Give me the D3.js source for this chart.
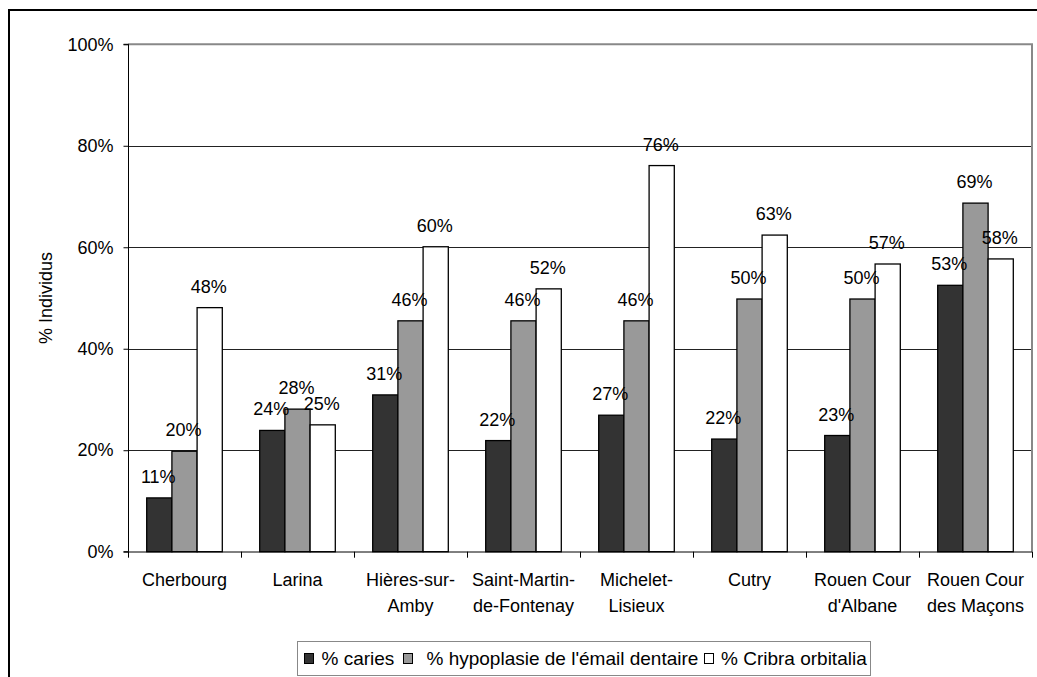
<!DOCTYPE html>
<html>
<head>
<meta charset="utf-8">
<script src="https://cdn.jsdelivr.net/npm/d3@7"></script>
<style>
  html, body { margin: 0; padding: 0; background: #fff; }
  svg { display: block; font-family: "Liberation Sans", Arial, sans-serif; }
</style>
</head>
<body>
<svg id="chart" width="1037" height="677"></svg>
<script>
// ---- Data ----
const categories = [
  ["Cherbourg"],
  ["Larina"],
  ["Hières-sur-", "Amby"],
  ["Saint-Martin-", "de-Fontenay"],
  ["Michelet-", "Lisieux"],
  ["Cutry"],
  ["Rouen Cour", "d'Albane"],
  ["Rouen Cour", "des Maçons"]
];
const seriesNames = ["% caries", "% hypoplasie de l'émail dentaire", "% Cribra orbitalia"];
const caries     = [10.6, 23.9, 30.9, 21.9, 26.9, 22.2, 22.9, 52.5];
const hypoplasie = [19.8, 28.1, 45.5, 45.5, 45.5, 49.8, 49.8, 68.7];
const cribra     = [48.1, 25.0, 60.1, 51.8, 76.1, 62.4, 56.7, 57.7];
const seriesValues = [caries, hypoplasie, cribra];
const labelCaries     = ["11%", "24%", "31%", "22%", "27%", "22%", "23%", "53%"];
const labelHypoplasie = ["20%", "28%", "46%", "46%", "46%", "50%", "50%", "69%"];
const labelCribra     = ["48%", "25%", "60%", "52%", "76%", "63%", "57%", "58%"];
const seriesLabels = [labelCaries, labelHypoplasie, labelCribra];
const yTicks = [0, 20, 40, 60, 80, 100];
const yTickLabels = ["0%", "20%", "40%", "60%", "80%", "100%"];
const yTitle = "% Individus";

// ---- Styles / layout ----
const colors = ["#333333", "#999999", "#ffffff"];
const fontSize = 18;
const legendFontSize = 19;
const legendMarkerX = [304, 403, 704];
const legendTextX = [321.5, 426.5, 721];

const svg = d3.select("#chart");

// outer frame
svg.append("rect")
  .attr("x", 9).attr("y", 10).attr("width", 1100).attr("height", 800)
  .attr("fill", "none").attr("stroke", "#000").attr("stroke-width", 2);

const plot = { left: 128, right: 1032, top: 44.3, bottom: 551.7 };

const x = d3.scaleBand()
  .domain(d3.range(categories.length))
  .range([plot.left, plot.right])
  .padding(0);
const bw = x.bandwidth();
const xs = d3.scaleBand()
  .domain(d3.range(seriesNames.length))
  .range([bw * 0.1655, bw * 0.8345])
  .padding(0);
const y = d3.scaleLinear().domain([0, 100]).range([plot.bottom, plot.top]);

const crisp = v => Math.round(v) + 0.5;

// gridlines
svg.append("g").selectAll("line")
  .data(yTicks.filter(t => t > 0 && t < 100))
  .join("line")
  .attr("x1", plot.left).attr("x2", plot.right)
  .attr("y1", d => crisp(y(d))).attr("y2", d => crisp(y(d)))
  .attr("stroke", "#222").attr("stroke-width", 1);

// plot border top & right (gray)
svg.append("line")
  .attr("x1", plot.left).attr("x2", plot.right + 1)
  .attr("y1", y(100)).attr("y2", y(100))
  .attr("stroke", "#888").attr("stroke-width", 2);
svg.append("line")
  .attr("x1", plot.right).attr("x2", plot.right)
  .attr("y1", y(100)).attr("y2", plot.bottom)
  .attr("stroke", "#888").attr("stroke-width", 2);

// bars
const groups = svg.append("g").selectAll("g")
  .data(categories)
  .join("g")
  .attr("transform", (d, i) => `translate(${x(i)},0)`);

groups.each(function(d, i) {
  const g = d3.select(this);
  seriesValues.forEach((vals, s) => {
    g.append("rect")
      .attr("x", xs(s))
      .attr("y", y(vals[i]))
      .attr("width", xs.bandwidth())
      .attr("height", y(0) - y(vals[i]))
      .attr("fill", colors[s])
      .attr("stroke", "#000")
      .attr("stroke-width", 1.3);
  });
});

// data labels
groups.each(function(d, i) {
  const g = d3.select(this);
  seriesValues.forEach((vals, s) => {
    g.append("text")
      .attr("x", xs(s) + xs.bandwidth() / 2 - 1)
      .attr("y", y(vals[i]) - 15)
      .attr("text-anchor", "middle")
      .attr("font-size", fontSize)
      .attr("fill", "#000")
      .text(seriesLabels[s][i]);
  });
});

// y axis
const yAxis = d3.axisLeft(y)
  .tickValues(yTicks)
  .tickFormat((d, i) => yTickLabels[i])
  .tickSize(5)
  .tickPadding(10);
const yG = svg.append("g")
  .attr("transform", `translate(${plot.left + 0.5},0)`)
  .call(yAxis);
yG.select(".domain").attr("stroke", "#000").attr("d", `M-5,${y(100)}H0V${plot.bottom}H-5`);
yG.selectAll(".tick line").attr("stroke", "#000");
yG.selectAll(".tick text")
  .attr("font-size", fontSize)
  .attr("font-family", "Liberation Sans, Arial, sans-serif")
  .attr("fill", "#000");

// x axis line + ticks at category boundaries
const xAxisG = svg.append("g");
xAxisG.append("line")
  .attr("x1", plot.left).attr("x2", plot.right)
  .attr("y1", crisp(plot.bottom) - 0.5).attr("y2", crisp(plot.bottom) - 0.5)
  .attr("stroke", "#000").attr("stroke-width", 1);
xAxisG.selectAll("line.tick")
  .data(d3.range(categories.length + 1))
  .join("line")
  .attr("class", "tick")
  .attr("x1", i => crisp(plot.left + i * bw)).attr("x2", i => crisp(plot.left + i * bw))
  .attr("y1", plot.bottom).attr("y2", plot.bottom + 6)
  .attr("stroke", "#000");

// category labels
const catText = xAxisG.selectAll("text.cat")
  .data(categories)
  .join("text")
  .attr("class", "cat")
  .attr("text-anchor", "middle")
  .attr("font-size", fontSize)
  .attr("fill", "#000")
  .attr("x", (d, i) => x(i) + bw / 2)
  .attr("y", 586);
catText.selectAll("tspan")
  .data(d => d)
  .join("tspan")
  .attr("x", function() { return d3.select(this.parentNode).attr("x"); })
  .attr("dy", (d, j) => j === 0 ? 0 : 26)
  .text(d => d);

// y title
svg.append("text")
  .attr("transform", `translate(52,${(plot.top + plot.bottom) / 2}) rotate(-90)`)
  .attr("text-anchor", "middle")
  .attr("font-size", fontSize)
  .attr("fill", "#000")
  .text(yTitle);

// legend
const legend = svg.append("g");
legend.append("rect")
  .attr("x", 297.5).attr("y", 641.5).attr("width", 573).attr("height", 34)
  .attr("fill", "#fff").attr("stroke", "#888").attr("stroke-width", 1);
const ly = 665;
seriesNames.forEach((name, s) => {
  legend.append("rect")
    .attr("x", legendMarkerX[s] + 0.5).attr("y", ly - 11.5).attr("width", 9).attr("height", 10)
    .attr("fill", colors[s]).attr("stroke", "#000").attr("stroke-width", 1);
  legend.append("text")
    .attr("x", legendTextX[s]).attr("y", ly)
    .attr("font-size", legendFontSize)
    .attr("fill", "#000")
    .text(name);
});
</script>
</body>
</html>
